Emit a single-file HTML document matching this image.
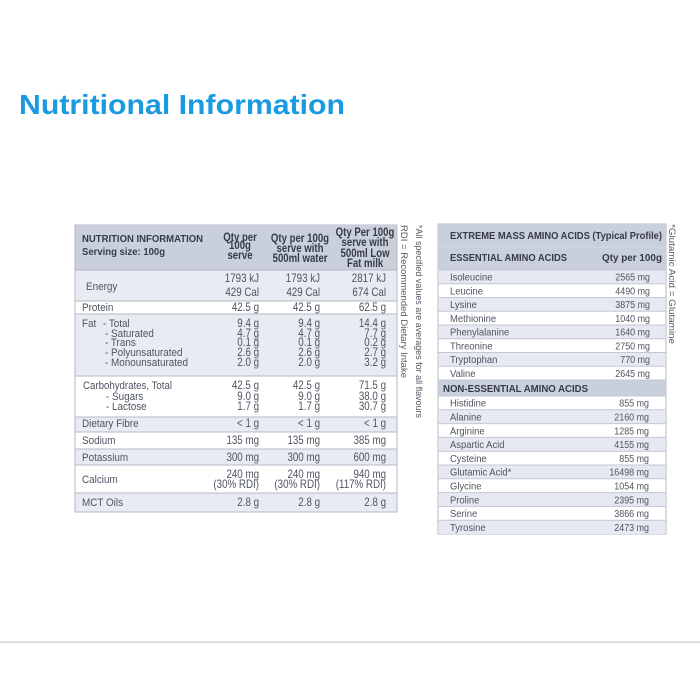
<!DOCTYPE html>
<html>
<head>
<meta charset="utf-8">
<style>
html,body{margin:0;padding:0;background:#fff;}
svg{display:block;}
text{font-family:"Liberation Sans",Arial,sans-serif;}
.L{transform-box:fill-box;transform-origin:0% 50%;transform:scaleX(0.9);}
.R{text-anchor:end;transform-box:fill-box;transform-origin:100% 50%;transform:scaleX(0.85);}
.C{text-anchor:middle;transform-box:fill-box;transform-origin:50% 50%;transform:scaleX(0.8);}
.v{font-size:11.5px;fill:#4f5460;}
.vl{font-size:11px;fill:#4f5460;}
.b{font-size:10.5px;font-weight:bold;fill:#363b46;}
.h{font-size:12px;font-weight:bold;fill:#363b46;}
.a{font-size:10.5px;fill:#4f5460;}
</style>
</head>
<body>
<svg width="700" height="700" viewBox="0 0 700 700" xmlns="http://www.w3.org/2000/svg">
<rect width="700" height="700" fill="#fff"/>
<text x="19" y="114" font-size="28" font-weight="bold" fill="#1a9ae0" textLength="326" lengthAdjust="spacingAndGlyphs">Nutritional Information</text>

<!-- LEFT TABLE -->
<rect x="75" y="225" width="322" height="287" fill="#fff" stroke="#b4b9c5" stroke-width="1"/>
<rect x="75" y="225" width="322" height="45" fill="#c9d0dc"/>
<rect x="75" y="270" width="322" height="31" fill="#e9ebf3"/>
<rect x="75" y="314" width="322" height="62" fill="#e9ebf3"/>
<rect x="75" y="417" width="322" height="15" fill="#e9ebf3"/>
<rect x="75" y="449" width="322" height="16" fill="#e9ebf3"/>
<rect x="75" y="493" width="322" height="19" fill="#e9ebf3"/>
<g stroke="#b4b9c5" stroke-width="1">
<line x1="75" y1="270" x2="397" y2="270"/>
<line x1="75" y1="301" x2="397" y2="301"/>
<line x1="75" y1="314" x2="397" y2="314"/>
<line x1="75" y1="376" x2="397" y2="376"/>
<line x1="75" y1="417" x2="397" y2="417"/>
<line x1="75" y1="432" x2="397" y2="432"/>
<line x1="75" y1="449" x2="397" y2="449"/>
<line x1="75" y1="465" x2="397" y2="465"/>
<line x1="75" y1="493" x2="397" y2="493"/>
<line x1="75" y1="512" x2="397" y2="512"/>
<line x1="75" y1="225" x2="75" y2="512"/>
<line x1="397" y1="225" x2="397" y2="512"/>
</g>

<text class="b" x="82" y="242" font-size="11" textLength="121" lengthAdjust="spacingAndGlyphs">NUTRITION INFORMATION</text>
<text class="b" x="82" y="255" font-size="11" textLength="83" lengthAdjust="spacingAndGlyphs">Serving size: 100g</text>

<text class="h C" x="240" y="241">Qty per</text>
<text class="h C" x="240" y="249">100g</text>
<text class="h C" x="240" y="259">serve</text>

<text class="h C" x="300" y="242">Qty per 100g</text>
<text class="h C" x="300" y="252">serve with</text>
<text class="h C" x="300" y="262">500ml water</text>

<text class="h C" x="365" y="236">Qty Per 100g</text>
<text class="h C" x="365" y="246">serve with</text>
<text class="h C" x="365" y="257">500ml Low</text>
<text class="h C" x="365" y="267">Fat milk</text>

<!-- labels -->
<text class="vl L" x="86" y="290">Energy</text>
<text class="vl L" x="82" y="311">Protein</text>
<text class="vl L" x="82" y="327">Fat</text>
<text class="vl L" x="103" y="327">- Total</text>
<text class="vl L" x="105" y="337">- Saturated</text>
<text class="vl L" x="105" y="346">- Trans</text>
<text class="vl L" x="105" y="356">- Polyunsaturated</text>
<text class="vl L" x="105" y="366">- Monounsaturated</text>
<text class="vl" x="83" y="389" textLength="89" lengthAdjust="spacingAndGlyphs">Carbohydrates, Total</text>
<text class="vl L" x="106" y="400">- Sugars</text>
<text class="vl L" x="106" y="410">- Lactose</text>
<text class="vl L" x="82" y="427">Dietary Fibre</text>
<text class="vl L" x="82" y="444">Sodium</text>
<text class="vl L" x="82" y="461">Potassium</text>
<text class="vl L" x="82" y="483">Calcium</text>
<text class="vl L" x="82" y="506">MCT Oils</text>

<!-- values -->
<g class="v">
<text class="R" x="259" y="282">1793 kJ</text>
<text class="R" x="259" y="296">429 Cal</text>
<text class="R" x="259" y="311">42.5 g</text>
<text class="R" x="259" y="327">9.4 g</text>
<text class="R" x="259" y="337">4.7 g</text>
<text class="R" x="259" y="346">0.1 g</text>
<text class="R" x="259" y="356">2.6 g</text>
<text class="R" x="259" y="366">2.0 g</text>
<text class="R" x="259" y="389">42.5 g</text>
<text class="R" x="259" y="400">9.0 g</text>
<text class="R" x="259" y="410">1.7 g</text>
<text class="R" x="259" y="427">&lt; 1 g</text>
<text class="R" x="259" y="444">135 mg</text>
<text class="R" x="259" y="461">300 mg</text>
<text class="R" x="259" y="478">240 mg</text>
<text class="R" x="259" y="488">(30% RDI)</text>
<text class="R" x="259" y="506">2.8 g</text>

<text class="R" x="320" y="282">1793 kJ</text>
<text class="R" x="320" y="296">429 Cal</text>
<text class="R" x="320" y="311">42.5 g</text>
<text class="R" x="320" y="327">9.4 g</text>
<text class="R" x="320" y="337">4.7 g</text>
<text class="R" x="320" y="346">0.1 g</text>
<text class="R" x="320" y="356">2.6 g</text>
<text class="R" x="320" y="366">2.0 g</text>
<text class="R" x="320" y="389">42.5 g</text>
<text class="R" x="320" y="400">9.0 g</text>
<text class="R" x="320" y="410">1.7 g</text>
<text class="R" x="320" y="427">&lt; 1 g</text>
<text class="R" x="320" y="444">135 mg</text>
<text class="R" x="320" y="461">300 mg</text>
<text class="R" x="320" y="478">240 mg</text>
<text class="R" x="320" y="488">(30% RDI)</text>
<text class="R" x="320" y="506">2.8 g</text>

<text class="R" x="386" y="282">2817 kJ</text>
<text class="R" x="386" y="296">674 Cal</text>
<text class="R" x="386" y="311">62.5 g</text>
<text class="R" x="386" y="327">14.4 g</text>
<text class="R" x="386" y="337">7.7 g</text>
<text class="R" x="386" y="346">0.2 g</text>
<text class="R" x="386" y="356">2.7 g</text>
<text class="R" x="386" y="366">3.2 g</text>
<text class="R" x="386" y="389">71.5 g</text>
<text class="R" x="386" y="400">38.0 g</text>
<text class="R" x="386" y="410">30.7 g</text>
<text class="R" x="386" y="427">&lt; 1 g</text>
<text class="R" x="386" y="444">385 mg</text>
<text class="R" x="386" y="461">600 mg</text>
<text class="R" x="386" y="478">940 mg</text>
<text class="R" x="386" y="488">(117% RDI)</text>
<text class="R" x="386" y="506">2.8 g</text>
</g>

<!-- rotated notes -->
<text transform="translate(416,225) rotate(90)" font-size="9.5" fill="#555a65" textLength="193" lengthAdjust="spacingAndGlyphs">*All specified values are averages for all flavours</text>
<text transform="translate(401,225) rotate(90)" font-size="9.5" fill="#555a65" textLength="153" lengthAdjust="spacingAndGlyphs">RDI = Recommended Dietary Intake</text>
<text transform="translate(669,224) rotate(90)" font-size="9.5" fill="#555a65" textLength="120" lengthAdjust="spacingAndGlyphs">*Glutamic Acid = Glutamine</text>

<!-- RIGHT TABLE -->
<rect x="438" y="224" width="228" height="310" fill="#fff" stroke="#b4b9c5" stroke-width="1"/>
<rect x="438" y="224" width="228" height="46" fill="#c9d0dc"/>
<line x1="438" y1="247" x2="666" y2="247" stroke="#d3d8e1" stroke-width="1"/>
<g fill="#e7e9f2">
<rect x="439" y="270" width="226" height="13.75"/>
<rect x="439" y="297.5" width="226" height="13.75"/>
<rect x="439" y="325" width="226" height="13.75"/>
<rect x="439" y="352.5" width="226" height="13.75"/>
<rect x="439" y="409.8" width="226" height="13.8"/>
<rect x="439" y="437.4" width="226" height="13.8"/>
<rect x="439" y="465" width="226" height="13.8"/>
<rect x="439" y="492.6" width="226" height="13.8"/>
<rect x="439" y="520.2" width="226" height="13.8"/>
</g>
<rect x="438" y="380" width="228" height="16" fill="#c9d0dc"/>
<g stroke="#c3c7d1" stroke-width="1">
<line x1="438" y1="270" x2="666" y2="270"/>
<line x1="438" y1="283.75" x2="666" y2="283.75"/>
<line x1="438" y1="297.5" x2="666" y2="297.5"/>
<line x1="438" y1="311.25" x2="666" y2="311.25"/>
<line x1="438" y1="325" x2="666" y2="325"/>
<line x1="438" y1="338.75" x2="666" y2="338.75"/>
<line x1="438" y1="352.5" x2="666" y2="352.5"/>
<line x1="438" y1="366.25" x2="666" y2="366.25"/>
<line x1="438" y1="380" x2="666" y2="380"/>
<line x1="438" y1="396" x2="666" y2="396"/>
<line x1="438" y1="409.8" x2="666" y2="409.8"/>
<line x1="438" y1="423.6" x2="666" y2="423.6"/>
<line x1="438" y1="437.4" x2="666" y2="437.4"/>
<line x1="438" y1="451.2" x2="666" y2="451.2"/>
<line x1="438" y1="465" x2="666" y2="465"/>
<line x1="438" y1="478.8" x2="666" y2="478.8"/>
<line x1="438" y1="492.6" x2="666" y2="492.6"/>
<line x1="438" y1="506.4" x2="666" y2="506.4"/>
<line x1="438" y1="520.2" x2="666" y2="520.2"/>
</g>

<text class="b" x="450" y="239" font-size="11" textLength="212" lengthAdjust="spacingAndGlyphs">EXTREME MASS AMINO ACIDS (Typical Profile)</text>
<text class="b" x="450" y="261" font-size="11" textLength="117" lengthAdjust="spacingAndGlyphs">ESSENTIAL AMINO ACIDS</text>
<text class="b" x="602" y="261" font-size="11" textLength="60" lengthAdjust="spacingAndGlyphs">Qty per 100g</text>
<text class="b" x="443" y="392" font-size="11" textLength="145" lengthAdjust="spacingAndGlyphs">NON-ESSENTIAL AMINO ACIDS</text>

<g class="a">
<text class="L" x="450" y="280.7">Isoleucine</text>
<text class="L" x="450" y="294.4">Leucine</text>
<text class="L" x="450" y="308.2">Lysine</text>
<text class="L" x="450" y="321.9">Methionine</text>
<text class="L" x="450" y="335.7">Phenylalanine</text>
<text class="L" x="450" y="349.4">Threonine</text>
<text class="L" x="450" y="363.2">Tryptophan</text>
<text class="L" x="450" y="376.9">Valine</text>

<text class="R" x="650" y="280.7">2565 mg</text>
<text class="R" x="650" y="294.4">4490 mg</text>
<text class="R" x="650" y="308.2">3875 mg</text>
<text class="R" x="650" y="321.9">1040 mg</text>
<text class="R" x="650" y="335.7">1640 mg</text>
<text class="R" x="650" y="349.4">2750 mg</text>
<text class="R" x="650" y="363.2">770 mg</text>
<text class="R" x="650" y="376.9">2645 mg</text>

<text class="L" x="450" y="406.7">Histidine</text>
<text class="L" x="450" y="420.5">Alanine</text>
<text class="L" x="450" y="434.3">Arginine</text>
<text class="L" x="450" y="448.1">Aspartic Acid</text>
<text class="L" x="450" y="461.9">Cysteine</text>
<text class="L" x="450" y="475.7">Glutamic Acid*</text>
<text class="L" x="450" y="489.5">Glycine</text>
<text class="L" x="450" y="503.3">Proline</text>
<text class="L" x="450" y="517.1">Serine</text>
<text class="L" x="450" y="530.9">Tyrosine</text>

<text class="R" x="649" y="406.7">855 mg</text>
<text class="R" x="649" y="420.5">2160 mg</text>
<text class="R" x="649" y="434.3">1285 mg</text>
<text class="R" x="649" y="448.1">4155 mg</text>
<text class="R" x="649" y="461.9">855 mg</text>
<text class="R" x="649" y="475.7">16498 mg</text>
<text class="R" x="649" y="489.5">1054 mg</text>
<text class="R" x="649" y="503.3">2395 mg</text>
<text class="R" x="649" y="517.1">3866 mg</text>
<text class="R" x="649" y="530.9">2473 mg</text>
</g>

<!-- bottom rule -->
<rect x="0" y="641.5" width="700" height="1.5" fill="#d5d5d5"/>
</svg>
</body>
</html>
